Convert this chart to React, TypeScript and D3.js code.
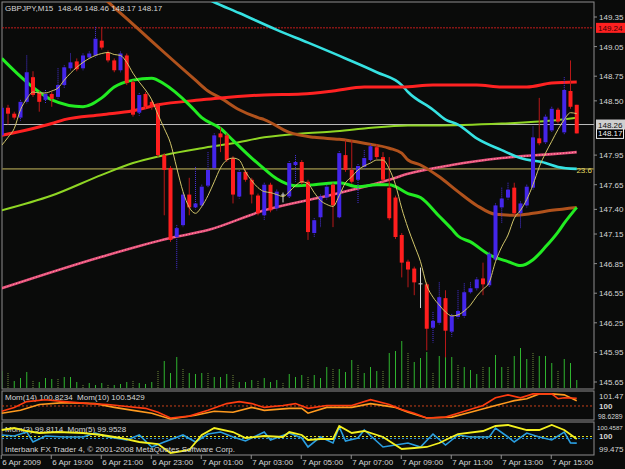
import * as d3 from "d3";

const W = 625;
const H = 469;

// [open, high, low, close] for each 15 min bar, 6 Apr 17:00 .. 7 Apr 16:00
const candles: [number, number, number, number][] = [
  [148.15, 148.45, 148.13, 148.43],
  [148.43, 148.46, 148.26, 148.37],
  [148.37, 148.39, 148.31, 148.33],
  [148.33, 148.51, 148.3, 148.49],
  [148.49, 148.96, 148.47, 148.79],
  [148.74, 148.8, 148.54, 148.56],
  [148.58, 148.6, 148.39, 148.49],
  [148.51, 148.61, 148.47, 148.57],
  [148.57, 148.59, 148.44, 148.52],
  [148.54, 148.83, 148.52, 148.66],
  [148.66, 148.86, 148.63, 148.84],
  [148.83, 148.98, 148.81, 148.89],
  [148.9, 148.93, 148.8, 148.82],
  [148.83, 148.98, 148.81, 148.96],
  [148.94, 149.0, 148.92, 148.98],
  [148.96, 149.25, 148.94, 149.13],
  [149.11, 149.25, 149.02, 149.04],
  [148.99, 149.01, 148.89, 148.91],
  [148.91, 148.93, 148.79, 148.81],
  [148.81, 149.0, 148.79, 148.98],
  [148.96, 148.98, 148.66, 148.68],
  [148.69, 148.71, 148.34, 148.36],
  [148.38, 148.58, 148.35, 148.56],
  [148.57, 148.59, 148.42, 148.44],
  [148.49, 148.51, 148.41, 148.44],
  [148.46, 148.48, 147.93, 147.95],
  [147.95, 147.97, 147.34, 147.8],
  [147.82, 147.84, 147.07, 147.09],
  [147.12, 147.24, 146.79, 147.21],
  [147.24, 147.57, 147.22, 147.55],
  [147.55, 147.72, 147.34, 147.42],
  [147.42, 147.83, 147.4, 147.46],
  [147.44, 147.65, 147.42, 147.63],
  [147.64, 147.98, 147.62, 147.8],
  [147.82, 148.17, 147.8, 148.15],
  [148.17, 148.23, 147.98, 148.13],
  [148.15, 148.17, 147.88, 147.9],
  [147.92, 147.94, 147.46, 147.55],
  [147.53, 147.8, 147.51, 147.78],
  [147.78, 147.8, 147.68, 147.7],
  [147.7, 147.72, 147.46, 147.55],
  [147.54, 147.56, 147.34, 147.36],
  [147.34, 147.67, 147.29, 147.65],
  [147.65, 147.67, 147.37, 147.39],
  [147.41, 147.6, 147.39, 147.58],
  [147.55, 147.57, 147.47, 147.55],
  [147.53, 147.89, 147.51, 147.87],
  [147.85, 147.95, 147.68, 147.88],
  [147.88, 147.9, 147.65, 147.67],
  [147.68, 147.7, 147.09, 147.17],
  [147.16, 147.31, 147.12, 147.29],
  [147.32, 147.55, 147.22, 147.53],
  [147.52, 147.65, 147.5, 147.63],
  [147.65, 147.67, 147.22, 147.44],
  [147.32, 147.99, 147.3, 147.97],
  [147.95, 148.1, 147.78, 147.8],
  [147.8, 148.1, 147.66, 147.68],
  [147.7, 147.86, 147.46, 147.84],
  [147.83, 148.0, 147.81, 147.92],
  [147.9, 148.06, 147.88, 148.04],
  [148.03, 148.06, 147.91, 147.93],
  [147.93, 147.98, 147.68, 147.7],
  [147.62, 147.93, 147.29, 147.31],
  [147.52, 147.54, 147.1, 147.12],
  [147.14, 147.16, 146.71, 146.86],
  [146.87, 146.89, 146.61, 146.79],
  [146.8, 146.82, 146.53, 146.66],
  [146.65, 146.81, 146.4, 146.65],
  [146.64, 146.66, 145.97, 146.19],
  [146.2, 146.36, 146.05, 146.27],
  [146.25, 146.66, 146.23, 146.51],
  [146.5, 146.58, 145.9, 146.17],
  [146.16, 146.34, 146.11, 146.32],
  [146.31, 146.58, 146.29, 146.37],
  [146.32, 146.65, 146.3, 146.56],
  [146.56, 146.66, 146.54, 146.6],
  [146.6, 146.71, 146.58, 146.69],
  [146.7, 146.86, 146.53, 146.64],
  [146.63, 146.97, 146.61, 146.95],
  [146.89, 147.46, 146.87, 147.44],
  [147.42, 147.62, 147.26, 147.51],
  [147.52, 147.67, 147.5, 147.6],
  [147.62, 147.67, 147.34, 147.36],
  [147.36, 147.48, 147.21, 147.46],
  [147.44, 147.65, 147.42, 147.63],
  [147.62, 148.24, 147.6, 148.13],
  [148.12, 148.53, 148.05, 148.07],
  [148.08, 148.36, 148.06, 148.34],
  [148.2, 148.44, 148.18, 148.42],
  [148.41, 148.43, 148.27, 148.29],
  [148.18, 148.74, 148.16, 148.61],
  [148.6, 148.91, 148.42, 148.44],
  [148.46, 148.46, 148.17, 148.17],
];

// tick volumes, one per bar
const volumes = [
  17, 15, 7, 10, 16, 8, 6, 10, 9, 10, 11, 11, 6, 4, 5, 3, 5, 3, 3, 4,
  6, 7, 5, 4, 6, 17, 27, 15, 31, 20, 15, 14, 15, 15, 11, 11, 14, 13, 6, 6,
  8, 8, 10, 6, 8, 5, 14, 11, 13, 11, 13, 10, 21, 19, 19, 16, 28, 24, 15, 21,
  17, 17, 35, 37, 47, 35, 26, 30, 36, 16, 32, 32, 31, 24, 21, 18, 14, 21, 21, 33,
  21, 21, 32, 40, 29, 35, 32, 32, 25, 17, 29, 25, 8,
];

// thin fast moving average, one value per bar
const maFast = [
  148.05, 148.13, 148.22, 148.41, 148.52, 148.59, 148.58, 148.58, 148.6, 148.63,
  148.71, 148.78, 148.84, 148.89, 148.93, 148.96, 148.98, 148.99, 148.97, 148.96,
  148.89, 148.78, 148.69, 148.61, 148.51, 148.36, 148.22, 148.07, 147.82, 147.58,
  147.42, 147.36, 147.43, 147.54, 147.68, 147.82, 147.9, 147.92, 147.9, 147.78,
  147.69, 147.62, 147.58, 147.57, 147.55, 147.53, 147.58, 147.64, 147.68, 147.66,
  147.57, 147.49, 147.45, 147.43, 147.54, 147.67, 147.73, 147.8, 147.84, 147.87,
  147.9, 147.9, 147.81, 147.65, 147.41, 147.21, 147.04, 146.87, 146.63, 146.51,
  146.43, 146.36, 146.32, 146.33, 146.37, 146.43, 146.52, 146.59, 146.66, 146.87,
  147.02, 147.14, 147.31, 147.39, 147.5, 147.65, 147.83, 147.97, 148.09, 148.21,
  148.31, 148.38, 148.37,
];

// slower moving averages, [bar, price]
const maGreen: [number, number][] = [
  [0, 148.93], [4, 148.69], [8, 148.51], [13, 148.44], [16, 148.53], [18, 148.64],
  [21, 148.71], [24, 148.73], [26, 148.67], [30, 148.46], [32, 148.33], [35, 148.22],
  [37, 148.1], [40, 147.92], [42, 147.81], [44, 147.71], [47, 147.64], [50, 147.65],
  [54, 147.67], [57, 147.63], [60, 147.65], [62, 147.65], [65, 147.56], [67, 147.52],
  [70, 147.33], [72, 147.2], [73, 147.13], [75, 147.07], [78, 146.94], [81, 146.87],
  [83, 146.83], [85, 146.89], [87, 147.02], [89, 147.17], [90, 147.26], [92, 147.42],
];
const maRed: [number, number][] = [
  [0, 148.15], [8, 148.27], [10, 148.31], [16, 148.36], [21, 148.4], [25, 148.46],
  [32, 148.51], [35, 148.53], [42, 148.56], [48, 148.57], [53, 148.6], [58, 148.64],
  [64, 148.64], [69, 148.66], [76, 148.66], [80, 148.64], [84, 148.64], [88, 148.68],
  [92, 148.69],
];
const maBrown: [number, number][] = [
  [16, 149.56], [19, 149.39], [22, 149.22], [26, 148.99], [31, 148.71], [33, 148.6],
  [35, 148.53], [38, 148.41], [41, 148.33], [42, 148.31], [46, 148.18], [50, 148.13],
  [54, 148.11], [58, 148.07], [62, 148.02], [64, 147.97], [65, 147.9], [67, 147.85],
  [70, 147.73], [73, 147.58], [76, 147.44], [79, 147.35], [82, 147.34], [85, 147.36],
  [88, 147.39], [92, 147.42],
];
const maCyan: [number, number][] = [
  [32, 149.56], [34, 149.5], [38, 149.39], [44, 149.22], [49, 149.09], [55, 148.93],
  [60, 148.79], [64, 148.66], [65, 148.59], [69, 148.41], [71, 148.31], [73, 148.26],
  [76, 148.12], [80, 148.0], [83, 147.92], [87, 147.87], [89, 147.83], [92, 147.81],
];
const maLime: [number, number][] = [
  [0, 147.39], [8, 147.54], [16, 147.75], [21, 147.87], [26, 147.95], [32, 148.02],
  [37, 148.07], [42, 148.13], [48, 148.17], [53, 148.19], [58, 148.22], [65, 148.25],
  [69, 148.25], [80, 148.27], [88, 148.3], [92, 148.33],
];
const maPink: [number, number][] = [
  [0, 146.6], [16, 146.92], [27, 147.11], [33, 147.19], [42, 147.39], [53, 147.55],
  [62, 147.7], [65, 147.76], [72, 147.85], [80, 147.92], [88, 147.96], [92, 147.98],
];

// momentum indicators, [bar, value]
const mom14: [number, number][] = [
  [0, 99.44], [2, 99.85], [4, 100.46], [7, 100.66], [10, 100.46], [14, 100.25],
  [17, 100.15], [20, 99.95], [23, 99.75], [25, 99.34], [27, 98.73], [30, 98.93],
  [33, 99.54], [36, 100.25], [38, 100.46], [40, 100.25], [42, 99.85], [45, 100.05],
  [47, 100.25], [49, 99.75], [52, 100.05], [56, 100.05], [59, 100.66], [62, 100.15],
  [64, 99.64], [66, 99.24], [68, 98.73], [71, 98.83], [73, 99.24], [77, 100.05],
  [79, 100.86], [81, 101.17], [83, 100.86], [85, 101.27], [88, 101.27], [89, 100.76],
  [90, 100.86], [92, 100.82],
];
const mom10: [number, number][] = [
  [0, 99.24], [3, 99.54], [6, 100.15], [10, 100.35], [15, 100.25], [18, 99.85],
  [21, 99.54], [24, 99.24], [27, 98.63], [31, 99.03], [34, 99.44], [37, 99.34],
  [40, 99.85], [42, 99.54], [46, 99.75], [48, 99.75], [49, 99.24], [52, 99.85],
  [56, 99.85], [59, 100.25], [63, 99.85], [65, 99.34], [68, 98.73], [72, 98.83],
  [75, 99.34], [79, 100.05], [82, 100.56], [84, 100.76], [86, 101.27], [88, 101.27],
  [90, 101.17], [92, 100.54],
];
const momFastA: [number, number][] = [
  [0, 100.255], [2, 100.323], [4, 100.221], [6, 100.153], [9, 100.187], [13, 100.153],
  [16, 100.086], [19, 99.984], [22, 99.848], [25, 99.78], [27, 99.475], [30, 99.577],
  [32, 100.086], [34, 100.323], [37, 100.187], [39, 99.984], [42, 100.052], [45, 100.018],
  [46, 100.187], [48, 100.086], [49, 99.916], [51, 99.95], [53, 99.95], [54, 100.391],
  [56, 100.153], [58, 100.221], [61, 100.018], [64, 99.611], [66, 99.645], [68, 99.679],
  [70, 99.814], [73, 100.119], [77, 100.221], [79, 100.391], [81, 100.425], [84, 100.255],
  [86, 100.255], [88, 100.425], [90, 100.255], [92, 99.953],
];
const momFastB: [number, number][] = [
  [0, 100.086], [2, 100.052], [4, 100.187], [5, 99.848], [7, 100.052], [10, 100.018],
  [13, 100.018], [15, 100.153], [17, 100.018], [20, 99.916], [22, 100.086], [24, 99.679],
  [26, 99.848], [29, 100.086], [31, 99.848], [33, 100.119], [35, 100.187], [37, 100.018],
  [39, 99.882], [42, 100.187], [43, 99.916], [46, 100.153], [48, 99.984], [49, 99.679],
  [51, 100.018], [53, 99.814], [54, 100.357], [55, 99.882], [57, 99.984], [58, 100.255],
  [61, 99.679], [63, 99.746], [65, 99.814], [67, 99.679], [69, 100.119], [71, 99.746],
  [73, 100.086], [75, 100.018], [78, 100.018], [79, 100.323], [81, 100.018], [82, 99.848],
  [84, 100.153], [86, 100.018], [88, 99.916], [90, 100.187], [91, 99.814], [92, 99.811],
];

const priceTicks = [
  149.35, 149.05, 148.75, 148.5, 147.95, 147.65, 147.4, 147.15, 146.85, 146.55,
  146.25, 145.95, 145.65,
];
const timeLabels: [number, string][] = [
  [0, "6 Apr 2009"], [8, "6 Apr 19:00"], [16, "6 Apr 21:00"], [24, "6 Apr 23:00"],
  [32, "7 Apr 01:00"], [40, "7 Apr 03:00"], [48, "7 Apr 05:00"], [56, "7 Apr 07:00"],
  [64, "7 Apr 09:00"], [72, "7 Apr 11:00"], [80, "7 Apr 13:00"], [88, "7 Apr 15:00"],
];
const highLine = 149.24;
const markLine = 148.26;
const bidPrice = 148.17;
const fibLevel = 147.81;

const BG = "#0a0b0a";
const FRAME = "#8e8e8e";
const TXT = "#d6d6d6";

export default function App() {
  const x = d3.scaleLinear().domain([0, 92]).range([1.75, 576.75]);
  const y = d3.scaleLinear().domain([145.65, 149.35]).range([382, 17]);
  const yVol = d3.scaleLinear().domain([0, 50]).range([388, 338]);
  const yM1 = d3.scaleLinear().domain([98.6289, 101.47]).range([419, 392]);
  const yM2 = d3.scaleLinear().domain([99.475, 100.4587]).range([453, 424]);

  const maLine = d3
    .line<[number, number]>()
    .x((d) => x(d[0]))
    .y((d) => y(d[1]))
    .curve(d3.curveMonotoneX);
  const fastLine = d3
    .line<number>()
    .x((_, i) => x(i))
    .y((d) => y(d))
    .curve(d3.curveMonotoneX);
  const m1Line = d3
    .line<[number, number]>()
    .x((d) => x(d[0]))
    .y((d) => yM1(d[1]));
  const m2Line = d3
    .line<[number, number]>()
    .x((d) => x(d[0]))
    .y((d) => yM2(d[1]));

  const right = 594;

  return (
    <svg
      width={W}
      height={H}
      style={{ position: "absolute", left: 0, top: 0, display: "block" }}
      fontFamily="'Liberation Sans', Arial, sans-serif"
      fontSize={8}
    >
      <defs>
        <clipPath id="main">
          <rect x={2} y={2} width={right - 2} height={387} />
        </clipPath>
      </defs>
      <rect width={W} height={H} fill={BG} />

      {/* frames */}
      <rect x={2} y={2} width={right - 2} height={387} fill="none" stroke={FRAME} />
      <rect x={2} y={391} width={right - 2} height={29} fill="none" stroke={FRAME} />
      <rect x={2} y={422} width={right - 2} height={33} fill="none" stroke={FRAME} />

      <g clipPath="url(#main)">
        {/* volumes */}
        {volumes.map((v, i) => (
          <line
            key={"v" + i}
            x1={x(i)}
            x2={x(i)}
            y1={yVol(0)}
            y2={yVol(v)}
            stroke={i % 4 === 1 ? "#6f8a3a" : "#2fb52f"}
            strokeDasharray={i % 4 === 1 ? "1 1" : undefined}
          />
        ))}

        {/* horizontal levels */}
        <line x1={2} x2={right} y1={y(highLine)} y2={y(highLine)} stroke="#c41c1c" strokeDasharray="2 1" />
        <line x1={2} x2={right} y1={y(markLine)} y2={y(markLine)} stroke="#bdbdbd" />
        <line x1={2} x2={right} y1={y(fibLevel)} y2={y(fibLevel)} stroke="#77703a" strokeWidth={1.6} />

        {/* slow moving averages */}
        <path d={maLine(maPink) || ""} fill="none" stroke="#e8507e" strokeWidth={2.6} />
        <path d={maLine(maPink) || ""} fill="none" stroke="#ffa8a0" strokeWidth={1} strokeDasharray="1 2" />
        <path d={maLine(maLime) || ""} fill="none" stroke="#8fd624" strokeWidth={2} />
        <path d={maLine(maCyan) || ""} fill="none" stroke="#36e2e2" strokeWidth={2.6} />
        <path d={maLine(maBrown) || ""} fill="none" stroke="#b0521c" strokeWidth={3} />
        <path d={maLine(maRed) || ""} fill="none" stroke="#ff2222" strokeWidth={3} />
        <path d={maLine(maGreen) || ""} fill="none" stroke="#22ec22" strokeWidth={3} />

        {/* candles */}
        {candles.map(([o, h, l, c], i) => {
          const cx = x(i);
          const up = c > o;
          const doji = c === o;
          const body = doji ? "#d8d8d8" : up ? "#4426ea" : "#ff1e1e";
          const wick = doji ? "#d8d8d8" : up ? "#4a34e0" : "#b81818";
          const top = y(Math.max(o, c));
          const bot = y(Math.min(o, c));
          return (
            <g key={"c" + i}>
              <line
                x1={cx}
                x2={cx}
                y1={y(h)}
                y2={y(l)}
                stroke={wick}
                strokeDasharray={up ? "1 1" : undefined}
              />
              <rect x={cx - 2} y={top} width={4} height={Math.max(1, bot - top)} fill={body} />
            </g>
          );
        })}

        {/* fast moving average */}
        <path d={fastLine(maFast) || ""} fill="none" stroke="#d2c66a" strokeWidth={1} />
      </g>

      {/* main panel texts */}
      <text x={5} y={11} fill={TXT} xmlSpace="preserve">
        GBPJPY,M15  148.46 148.46 148.17 148.17
      </text>
      <text x={592} y={172.5} fill="#e2d860" textAnchor="end">
        23.6
      </text>

      {/* price axis */}
      {priceTicks.map((p) => (
        <g key={"p" + p}>
          <line x1={right} x2={right + 3} y1={y(p)} y2={y(p)} stroke={FRAME} />
          <text x={599} y={y(p) + 3} fill={TXT}>
            {p.toFixed(2)}
          </text>
        </g>
      ))}
      <rect x={596} y={y(highLine) - 5} width={29} height={10} fill="#ff2020" />
      <text x={598} y={y(highLine) + 3} fill="#3a0000">
        {highLine.toFixed(2)}
      </text>
      <rect x={596} y={y(markLine) - 5} width={29} height={10} fill="#cfcfcf" />
      <text x={598} y={y(markLine) + 3} fill="#111">
        {markLine.toFixed(2)}
      </text>
      <rect x={596.5} y={y(bidPrice) - 4.5} width={27} height={9.5} fill="#000" stroke="#e8e8e8" />
      <text x={598} y={y(bidPrice) + 3} fill="#f0f0f0">
        {bidPrice.toFixed(2)}
      </text>

      {/* momentum panel 1 */}
      <text x={5} y={400} fill={TXT} xmlSpace="preserve">
        Mom(14) 100.8234  Mom(10) 100.5429
      </text>
      <line x1={2} x2={right} y1={yM1(100)} y2={yM1(100)} stroke="#c8401a" strokeDasharray="2 2" />
      <path d={m1Line(mom10) || ""} fill="none" stroke="#ff9a1e" strokeWidth={1.6} />
      <path d={m1Line(mom14) || ""} fill="none" stroke="#ff3c10" strokeWidth={1.6} />
      <text x={599} y={yM1(101.47) + 7} fill={TXT}>101.47</text>
      <text x={599} y={yM1(100) + 3} fill={TXT} fontWeight="bold">100</text>
      <text x={598} y={yM1(98.6289)} fill={TXT} fontSize={6.8}>
        98.6289
      </text>

      {/* momentum panel 2 */}
      <text x={5} y={432} fill={TXT} xmlSpace="preserve">
        Mom(3) 99.8114  Mom(5) 99.9528
      </text>
      <line x1={2} x2={right} y1={yM2(100) - 1} y2={yM2(100) - 1} stroke="#e0e020" strokeDasharray="2 2" />
      <line x1={2} x2={right} y1={yM2(100) + 1} y2={yM2(100) + 1} stroke="#2a90d0" strokeDasharray="2 2" />
      <path d={m2Line(momFastB) || ""} fill="none" stroke="#2a9ee0" strokeWidth={1.6} />
      <path d={m2Line(momFastA) || ""} fill="none" stroke="#f4f020" strokeWidth={1.8} />
      <text x={5} y={452} fill={TXT}>
        Interbank FX Trader 4, © 2001-2008 MetaQuotes Software Corp.
      </text>
      <text x={597} y={yM2(100.4587) + 6} fill={TXT} fontSize={6.2}>
        100.4587
      </text>
      <text x={599} y={yM2(100) + 1} fill={TXT} fontWeight="bold">100</text>
      <text x={599} y={yM2(99.475) - 1} fill={TXT}>99.475</text>

      {/* time axis */}
      {timeLabels.map(([b, t]) => (
        <g key={t}>
          <line x1={x(b) - 0.5} x2={x(b) - 0.5} y1={455} y2={459} stroke={FRAME} />
          <text x={x(b) + 0.5} y={465} fill={TXT}>
            {t}
          </text>
        </g>
      ))}
    </svg>
  );
}
